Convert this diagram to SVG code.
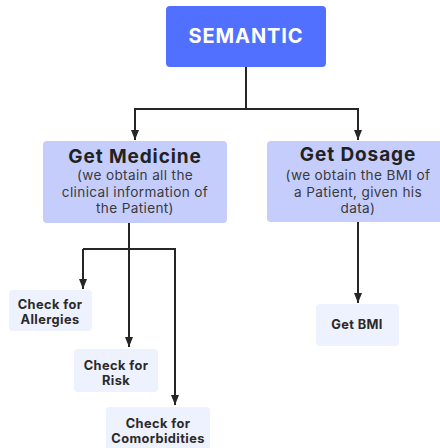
<svg xmlns="http://www.w3.org/2000/svg" width="440" height="448" viewBox="0 0 440 448">
  <style>
    .root { fill: #5170FF; }
    .main { fill: #C5CDFD; }
    .leaf { fill: #EEF1FE; }
    .t-root { font-family: Inter, "Liberation Sans", sans-serif; font-weight: 700; font-size: 20px; fill: #ffffff; text-anchor: middle; letter-spacing: 0.9px; }
    .t-head { font-family: Inter, "Liberation Sans", sans-serif; font-weight: 700; font-size: 19px; fill: #222222; text-anchor: middle; letter-spacing: 0.9px; }
    .t-sub { font-family: Inter, "Liberation Sans", sans-serif; font-weight: 400; font-size: 13.6px; fill: #3a3a3a; text-anchor: middle; letter-spacing: 0.35px; }
    .t-leaf { font-family: Inter, "Liberation Sans", sans-serif; font-weight: 700; font-size: 12.8px; fill: #2a2a2a; text-anchor: middle; letter-spacing: 0.4px; }
    .wire { fill: none; stroke: #262626; stroke-width: 2; }
  </style>
  <defs>
    <marker id="arrow" viewBox="0 0 10 8" refX="10" refY="4" markerWidth="10" markerHeight="9" markerUnits="userSpaceOnUse" orient="auto">
      <path d="M0,0 L10,4 L0,8 Z" fill="#262626"/>
    </marker>
  </defs>

  <rect width="440" height="448" fill="#ffffff"/>

  <g id="connectors">
    <path class="wire" d="M246,67 V109 H135 V140" marker-end="url(#arrow)"/>
    <path class="wire" d="M246,109 H358 V140" marker-end="url(#arrow)"/>
    <path class="wire" d="M358,222 V303" marker-end="url(#arrow)"/>
    <path class="wire" d="M129,223 V347" marker-end="url(#arrow)"/>
    <path class="wire" d="M83,249 H175 V405" marker-end="url(#arrow)"/>
    <path class="wire" d="M83,249 V289" marker-end="url(#arrow)"/>
  </g>

  <g id="semantic">
    <rect class="root" x="166" y="6" width="160" height="61" rx="4"/>
    <text class="t-root" x="246" y="43">SEMANTIC</text>
  </g>

  <g id="get-medicine">
    <rect class="main" x="43" y="141" width="184" height="82" rx="4"/>
    <text class="t-head" x="135" y="163">Get Medicine</text>
    <text class="t-sub" x="135" y="180">(we obtain all the</text>
    <text class="t-sub" x="135" y="197">clinical information of</text>
    <text class="t-sub" x="135" y="213">the Patient)</text>
  </g>

  <g id="get-dosage">
    <rect class="main" x="267" y="141" width="180" height="81" rx="4"/>
    <text class="t-head" x="358" y="161">Get Dosage</text>
    <text class="t-sub" x="358" y="180">(we obtain the BMI of</text>
    <text class="t-sub" x="358" y="197">a Patient, given his</text>
    <text class="t-sub" x="358" y="213">data)</text>
  </g>

  <g id="get-bmi">
    <rect class="leaf" x="316" y="304" width="83" height="42" rx="4"/>
    <text class="t-leaf" x="357" y="329">Get BMI</text>
  </g>

  <g id="check-allergies">
    <rect class="leaf" x="9" y="290" width="83" height="41" rx="4"/>
    <text class="t-leaf" x="50" y="309">Check for</text>
    <text class="t-leaf" x="50" y="323.5">Allergies</text>
  </g>

  <g id="check-risk">
    <rect class="leaf" x="74" y="349" width="84" height="43" rx="4"/>
    <text class="t-leaf" x="116" y="370">Check for</text>
    <text class="t-leaf" x="116" y="384.5">Risk</text>
  </g>

  <g id="check-comorbidities">
    <rect class="leaf" x="106" y="407" width="104" height="46" rx="4"/>
    <text class="t-leaf" x="158" y="428">Check for</text>
    <text class="t-leaf" x="158" y="442.5">Comorbidities</text>
  </g>
</svg>
